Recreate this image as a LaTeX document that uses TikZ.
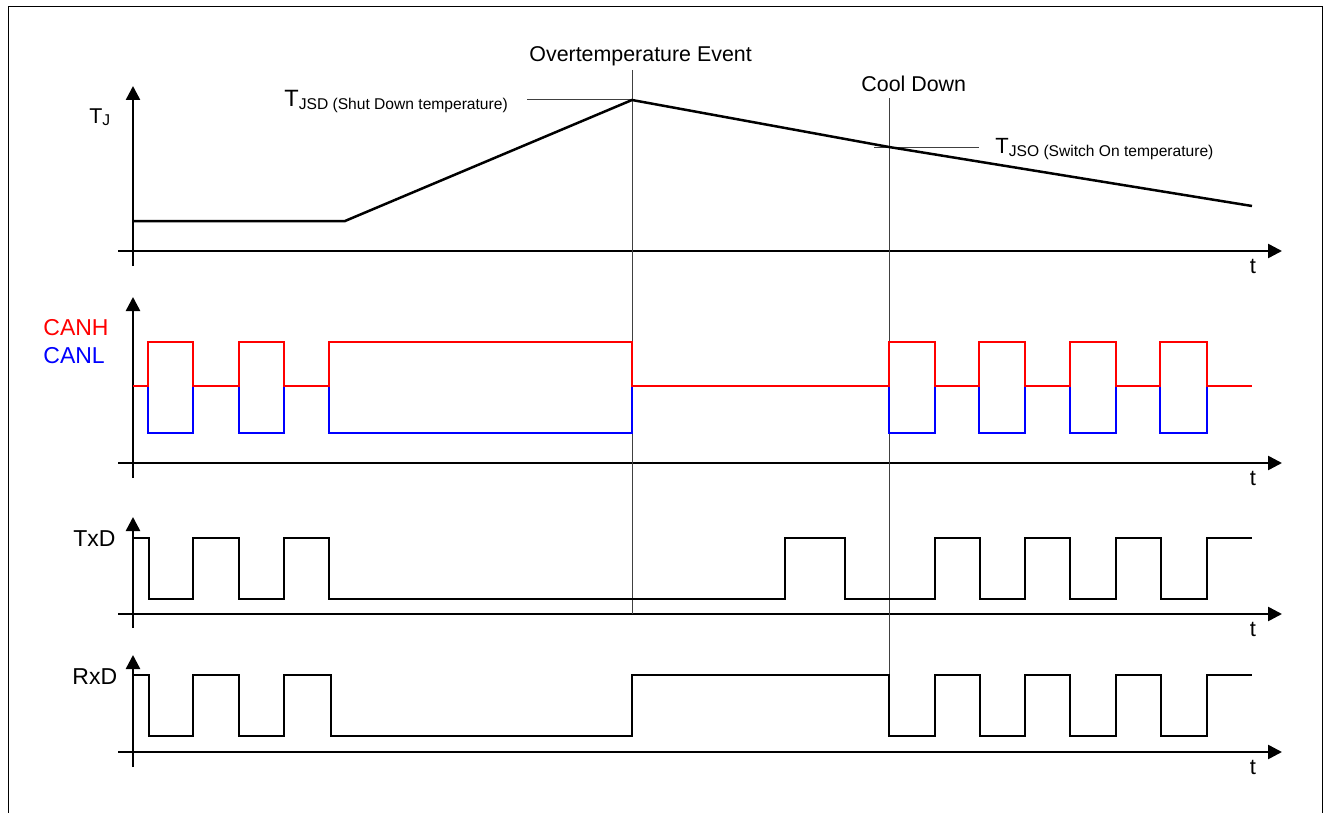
\documentclass[tikz,border=0pt]{standalone}
\usepackage{fontspec}
\setmainfont{Liberation Sans}
\usetikzlibrary{arrows.meta}
\begin{document}
\begin{tikzpicture}[x=0.5pt,y=-0.5pt,
  axisline/.style={line width=1.25pt, -{Triangle[length=7pt,width=7pt]}},
  sig/.style={line width=1.25pt, line join=miter},
  markerline/.style={line width=0.5pt, black!75},
  lbl/.style={inner sep=0pt, anchor=base west, font=\fontsize{11.5}{13}\selectfont},
  tlbl/.style={inner sep=0pt, anchor=base, font=\fontsize{11}{13}\selectfont},
  evlbl/.style={inner sep=0pt, anchor=base west, font=\fontsize{10.7}{13}\selectfont},
]
\useasboundingbox (0,0) rectangle (1333,813);
% frame
\draw[line width=0.5pt] (8,815) -- (8,7) -- (1322,7) -- (1322,815);

% ---------- axes ----------
\foreach \ytop/\yax/\ybot/\n in {86/251/266/1, 297/463/478/2, 517/614/628/3, 655/752/767/4}{
  \coordinate (vb\n) at (133,\ybot);
  \coordinate (vt\n) at (133,\ytop);
  \coordinate (hl\n) at (118,\yax);
  \coordinate (hr\n) at (1282,\yax);
  \draw[axisline] (vb\n) -- (vt\n);
  \draw[axisline] (hl\n) -- (hr\n);
}
\node[tlbl] (t1) at (1253,273) {t};
\node[tlbl] (t2) at (1253,485) {t};
\node[tlbl] (t3) at (1253,636) {t};
\node[tlbl] (t4) at (1253,774) {t};

% ---------- labels ----------
\node[lbl, font=\fontsize{10.7}{13}\selectfont] (tj) at (89,124) {T\raisebox{-1pt}{\fontsize{7.8}{9}\selectfont J}};
\node[lbl, text=red] (canh) at (43,335) {CANH};
\node[lbl, text=blue] (canl) at (43,363) {CANL};
\node[lbl] (txd) at (73,546) {TxD};
\node[lbl] (rxd) at (72,684) {RxD};
\node[evlbl] (ote) at (529,62) {Overtemperature Event};
\node[evlbl] (cool) at (861,92) {Cool Down};
\node[lbl, font=\fontsize{11.8}{13}\selectfont] (tjsd) at (284,107) {T\raisebox{-1.5pt}{\fontsize{7.8}{9}\selectfont JSD (Shut Down temperature)}};
\node[lbl, font=\fontsize{11}{13}\selectfont] (tjso) at (995,154) {T\raisebox{-1.5pt}{\fontsize{7.8}{9}\selectfont JSO (Switch On temperature)}};

% ---------- marker lines ----------
\coordinate (peak) at (632,100);
\coordinate (son) at (889,147);
\coordinate (jsdl) at (527,100);
\coordinate (jsol) at (874,148);
\coordinate (jsor) at (979,148);
\coordinate (otetop) at (632,70);
\coordinate (otebot) at (632,614);
\coordinate (cooltop) at (889,98);
\coordinate (coolbot) at (889,675);
\draw[markerline] (jsdl) -- (peak);
\draw[markerline] (jsol) -- (jsor);
\draw[markerline] (otetop) -- (otebot);
\draw[markerline] (cooltop) -- (coolbot);

% ---------- junction temperature ----------
\draw[sig] (133,221) -- (345,221) -- (peak) -- (son) -- (1252,206);

% ---------- CAN ----------
\draw[sig, blue] (133,386) -- (148,386) -- (148,433) -- (193,433) -- (193,386)
  -- (239,386) -- (239,433) -- (284,433) -- (284,386)
  -- (329,386) -- (329,433) -- (632,433) -- (632,386)
  -- (889,386) -- (889,433) -- (935,433) -- (935,386)
  -- (979,386) -- (979,433) -- (1025,433) -- (1025,386)
  -- (1070,386) -- (1070,433) -- (1116,433) -- (1116,386)
  -- (1160,386) -- (1160,433) -- (1207,433) -- (1207,386) -- (1252,386);
\draw[sig, red] (133,386) -- (148,386) -- (148,342) -- (193,342) -- (193,386)
  -- (239,386) -- (239,342) -- (284,342) -- (284,386)
  -- (329,386) -- (329,342) -- (632,342) -- (632,386)
  -- (889,386) -- (889,342) -- (935,342) -- (935,386)
  -- (979,386) -- (979,342) -- (1025,342) -- (1025,386)
  -- (1070,386) -- (1070,342) -- (1116,342) -- (1116,386)
  -- (1160,386) -- (1160,342) -- (1207,342) -- (1207,386) -- (1252,386);

% ---------- TxD ----------
\draw[sig] (133,538) -- (149,538) -- (149,599) -- (193,599) -- (193,538)
  -- (239,538) -- (239,599) -- (284,599) -- (284,538)
  -- (329,538) -- (329,599) -- (785,599) -- (785,538)
  -- (845,538) -- (845,599) -- (935,599) -- (935,538)
  -- (980,538) -- (980,599) -- (1025,599) -- (1025,538)
  -- (1070,538) -- (1070,599) -- (1116,599) -- (1116,538)
  -- (1161,538) -- (1161,599) -- (1207,599) -- (1207,538) -- (1252,538);

% ---------- RxD ----------
\draw[sig] (133,675) -- (149,675) -- (149,736) -- (193,736) -- (193,675)
  -- (239,675) -- (239,736) -- (284,736) -- (284,675)
  -- (331,675) -- (331,736) -- (632,736) -- (632,675)
  -- (889,675) -- (889,736) -- (935,736) -- (935,675)
  -- (980,675) -- (980,736) -- (1025,736) -- (1025,675)
  -- (1070,675) -- (1070,736) -- (1116,736) -- (1116,675)
  -- (1161,675) -- (1161,736) -- (1207,736) -- (1207,675) -- (1252,675);
\end{tikzpicture}
\end{document}
